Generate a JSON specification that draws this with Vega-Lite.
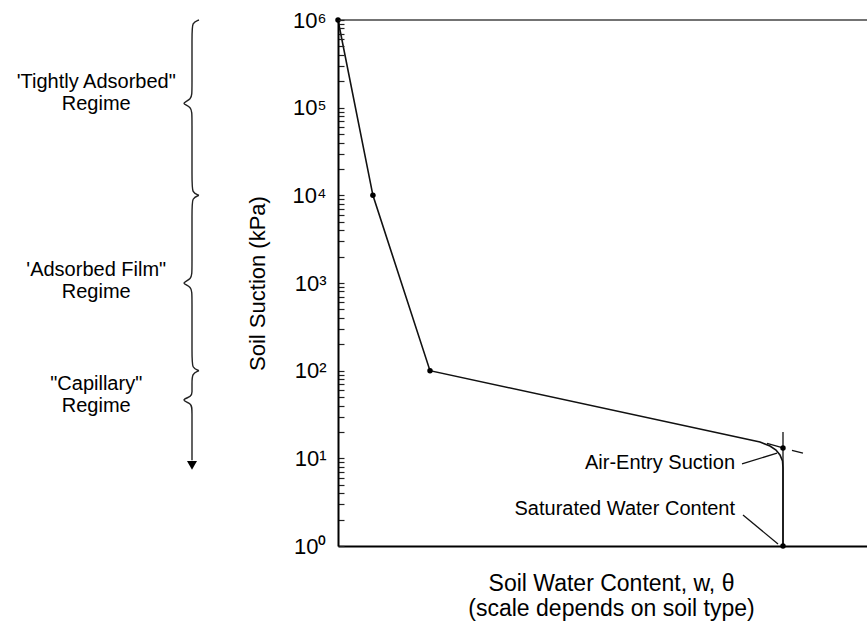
{
  "$schema": "https://vega.github.io/schema/vega-lite/v6.json",
  "width": 529,
  "height": 526,
  "autosize": {"type": "none"},
  "padding": {"left": 338, "top": 20, "right": 0, "bottom": 81},
  "background": "white",
  "config": {"font": "Liberation Sans", "view": {"stroke": null}},
  "datasets": {
    "braces": [
      {"g": "b1", "o": 1, "x": -26.28, "y": 1000000},
      {"g": "b1", "o": 2, "x": -27.6, "y": 933254},
      {"g": "b1", "o": 3, "x": -27.6, "y": 707946},
      {"g": "b1", "o": 4, "x": -27.6, "y": 158489},
      {"g": "b1", "o": 5, "x": -27.6, "y": 123027},
      {"g": "b1", "o": 6, "x": -29.87, "y": 112202},
      {"g": "b1", "o": 7, "x": -27.6, "y": 102329},
      {"g": "b1", "o": 8, "x": -27.6, "y": 79433},
      {"g": "b1", "o": 9, "x": -27.6, "y": 14125},
      {"g": "b1", "o": 10, "x": -27.6, "y": 10715},
      {"g": "b1", "o": 11, "x": -26.28, "y": 10000},
      {"g": "b2", "o": 1, "x": -26.28, "y": 10000},
      {"g": "b2", "o": 2, "x": -27.6, "y": 9333},
      {"g": "b2", "o": 3, "x": -27.6, "y": 7079},
      {"g": "b2", "o": 4, "x": -27.6, "y": 1413},
      {"g": "b2", "o": 5, "x": -27.6, "y": 1096},
      {"g": "b2", "o": 6, "x": -29.87, "y": 1000},
      {"g": "b2", "o": 7, "x": -27.6, "y": 912},
      {"g": "b2", "o": 8, "x": -27.6, "y": 708},
      {"g": "b2", "o": 9, "x": -27.6, "y": 141.3},
      {"g": "b2", "o": 10, "x": -27.6, "y": 107.2},
      {"g": "b2", "o": 11, "x": -26.28, "y": 100},
      {"g": "b3", "o": 1, "x": -26.28, "y": 100},
      {"g": "b3", "o": 2, "x": -27.6, "y": 93.3},
      {"g": "b3", "o": 3, "x": -27.6, "y": 70.8},
      {"g": "b3", "o": 4, "x": -27.6, "y": 56.2},
      {"g": "b3", "o": 5, "x": -27.6, "y": 50.7},
      {"g": "b3", "o": 6, "x": -29.87, "y": 46.2},
      {"g": "b3", "o": 7, "x": -27.6, "y": 42.2},
      {"g": "b3", "o": 8, "x": -27.6, "y": 35.5},
      {"g": "b3", "o": 9, "x": -27.6, "y": 15.85},
      {"g": "b3", "o": 10, "x": -27.6, "y": 9.5}
    ],
    "curve": [
      {"o": 1, "x": 0, "y": 1000000},
      {"o": 2, "x": 6.6, "y": 10000},
      {"o": 3, "x": 17.39, "y": 100},
      {"o": 4, "x": 79.77, "y": 15.36},
      {"o": 5, "x": 81.66, "y": 13.82},
      {"o": 6, "x": 82.8, "y": 12.45},
      {"o": 7, "x": 83.55, "y": 10.92},
      {"o": 8, "x": 84.03, "y": 9.32},
      {"o": 9, "x": 84.12, "y": 7.76},
      {"o": 10, "x": 84.12, "y": 1}
    ],
    "segments": [
      {"g": "vertical", "o": 1, "x": 84.12, "y": 20},
      {"g": "vertical", "o": 2, "x": 84.12, "y": 1},
      {"g": "tangent", "o": 1, "x": 81.1, "y": 14.84},
      {"g": "tangent", "o": 2, "x": 84.12, "y": 13.12},
      {"g": "dash", "o": 1, "x": 85.82, "y": 12.29},
      {"g": "dash", "o": 2, "x": 87.9, "y": 11.5},
      {"g": "leaderAir", "o": 1, "x": 76.37, "y": 8.62},
      {"g": "leaderAir", "o": 2, "x": 82.99, "y": 11.5},
      {"g": "leaderSat", "o": 1, "x": 76.56, "y": 2.257},
      {"g": "leaderSat", "o": 2, "x": 83.18, "y": 1.054}
    ],
    "top": [
      {"x": 0, "y": 1000000},
      {"x": 100, "y": 1000000}
    ],
    "points": [
      {"x": 0, "y": 1000000},
      {"x": 6.6, "y": 10000},
      {"x": 17.39, "y": 100},
      {"x": 84.12, "y": 13.12},
      {"x": 84.12, "y": 1}
    ],
    "arrow": [
      {"x": -27.6, "y": 8.3}
    ],
    "regimes": [
      {"x": -45.7, "y": 196300, "t": "'Tightly Adsorbed\""},
      {"x": -45.7, "y": 110100, "t": "Regime"},
      {"x": -45.7, "y": 1407, "t": "'Adsorbed Film\""},
      {"x": -45.7, "y": 789.5, "t": "Regime"},
      {"x": -45.7, "y": 70.46, "t": "\"Capillary\""},
      {"x": -45.7, "y": 39.54, "t": "Regime"}
    ],
    "notes": [
      {"x": 75.05, "y": 8.85, "t": "Air-Entry Suction"},
      {"x": 75.05, "y": 2.64, "t": "Saturated Water Content"}
    ]
  },
  "encoding": {
    "x": {
      "field": "x",
      "type": "quantitative",
      "scale": {"domain": [0, 100], "nice": false, "zero": false},
      "axis": {
        "title": ["Soil Water Content, w, θ", "(scale depends on soil type)"],
        "titleFontSize": 23,
        "titleFontWeight": "normal",
        "titleColor": "black",
        "titleLineHeight": 25,
        "titleX": 273,
        "titleY": 44,
        "titleBaseline": "alphabetic",
        "titleAlign": "center",
        "labels": false,
        "ticks": false,
        "grid": false,
        "domainColor": "black",
        "domainWidth": 2
      }
    },
    "y": {
      "field": "y",
      "type": "quantitative",
      "scale": {"type": "log", "domain": [1, 1000000], "nice": false},
      "axis": {
        "title": "Soil Suction (kPa)",
        "titleFontSize": 22,
        "titleFontWeight": "normal",
        "titleColor": "black",
        "titleX": -81,
        "titleY": 263,
        "titleAngle": -90,
        "titleAlign": "center",
        "titleBaseline": "middle",
        "grid": false,
        "domainColor": "black",
        "domainWidth": 2,
        "ticks": true,
        "tickColor": "#222",
        "tickWidth": 1.2,
        "tickSize": -6,
        "labelPadding": 18,
        "labelFontSize": 22,
        "labelColor": "black",
        "labelBaseline": "middle",
        "labelFlush": false,
        "labelOverlap": false,
        "zindex": 1,
        "values": [1, 2, 3, 4, 5, 6, 7, 8, 9, 10, 20, 30, 40, 50, 60, 70, 80, 90, 100, 200, 300, 400, 500, 600, 700, 800, 900, 1000, 2000, 3000, 4000, 5000, 6000, 7000, 8000, 9000, 10000, 20000, 30000, 40000, 50000, 60000, 70000, 80000, 90000, 100000, 200000, 300000, 400000, 500000, 600000, 700000, 800000, 900000, 1000000],
        "labelExpr": "datum.value == pow(10, round(log(datum.value)/LN10)) ? '10' + ['⁰','¹','²','³','⁴','⁵','⁶'][round(log(datum.value)/LN10)] : ''"
      }
    }
  },
  "layer": [
    {
      "data": {"name": "braces"},
      "mark": {"type": "line", "interpolate": "basis", "color": "#222", "strokeWidth": 1.4},
      "encoding": {"detail": {"field": "g"}, "order": {"field": "o", "type": "quantitative"}}
    },
    {
      "data": {"name": "top"},
      "mark": {"type": "line", "color": "#444", "strokeWidth": 1.3},
      "encoding": {}
    },
    {
      "data": {"name": "curve"},
      "mark": {"type": "line", "color": "#111", "strokeWidth": 1.6},
      "encoding": {"order": {"field": "o", "type": "quantitative"}}
    },
    {
      "data": {"name": "segments"},
      "mark": {"type": "line", "color": "#111", "strokeWidth": 1.3},
      "encoding": {"detail": {"field": "g"}, "order": {"field": "o", "type": "quantitative"}}
    },
    {
      "data": {"name": "points"},
      "mark": {"type": "point", "filled": true, "color": "black", "size": 30, "opacity": 1}
    },
    {
      "data": {"name": "arrow"},
      "mark": {"type": "point", "shape": "triangle-down", "filled": true, "color": "black", "size": 100, "opacity": 1}
    },
    {
      "data": {"name": "regimes"},
      "mark": {"type": "text", "align": "center", "baseline": "middle", "fontSize": 20, "color": "black"},
      "encoding": {"text": {"field": "t"}}
    },
    {
      "data": {"name": "notes"},
      "mark": {"type": "text", "align": "right", "baseline": "middle", "fontSize": 20, "color": "black"},
      "encoding": {"text": {"field": "t"}}
    }
  ]
}
